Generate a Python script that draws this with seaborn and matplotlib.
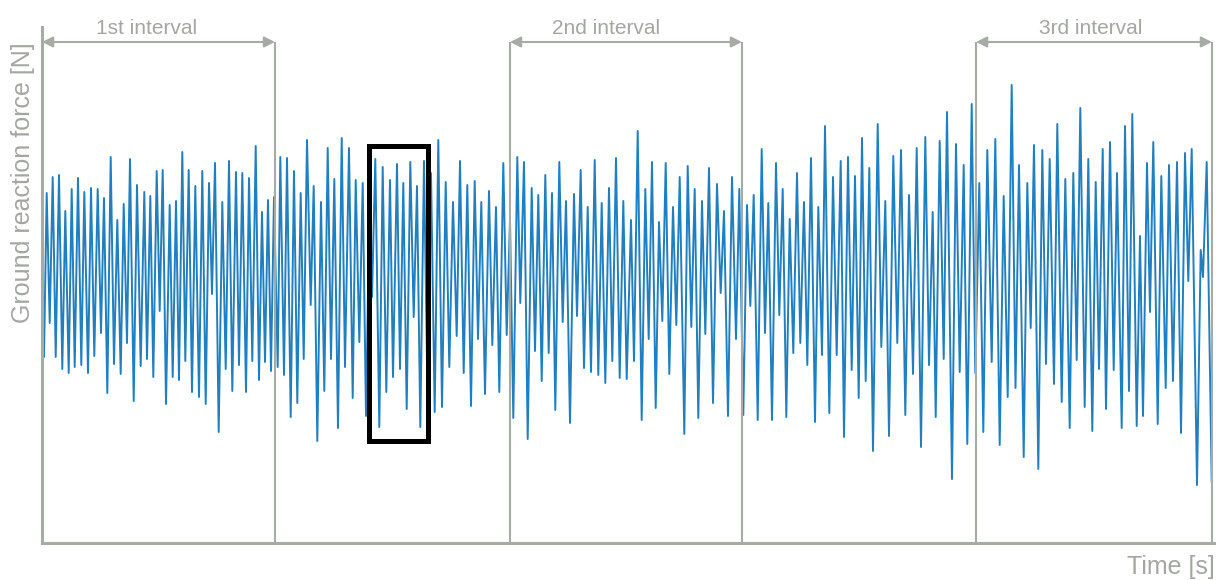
import pandas as pd
import seaborn as sns
import matplotlib.pyplot as plt
from matplotlib.patches import Rectangle

sns.set_style("white")
plt.rcParams['font.family'] = ['Liberation Sans', 'DejaVu Sans']

# peaks and troughs of the force signal
time_s = [
    0.20, 0.47, 0.77, 1.07, 1.37, 1.70, 2.03, 2.33, 2.67, 2.97,
    3.27, 3.60, 3.93, 4.23, 4.60, 4.90, 5.23, 5.57, 5.90, 6.20,
    6.53, 6.87, 7.20, 7.53, 7.87, 8.17, 8.50, 8.80, 9.17, 9.50,
    9.87, 10.23, 10.50, 10.83, 11.13, 11.47, 11.77, 12.07, 12.40, 12.77,
    13.07, 13.40, 13.70, 14.03, 14.33, 14.67, 15.00, 15.33, 15.70, 16.03,
    16.37, 16.70, 17.00, 17.30, 17.67, 18.03, 18.37, 18.70, 19.03, 19.40,
    19.70, 20.03, 20.40, 20.70, 21.03, 21.37, 21.70, 22.00, 22.30, 22.60,
    22.90, 23.20, 23.57, 23.83, 24.20, 24.50, 24.87, 25.20, 25.53, 25.87,
    26.17, 26.50, 26.87, 27.17, 27.53, 27.90, 28.23, 28.57, 28.90, 29.23,
    29.60, 29.97, 30.30, 30.70, 31.07, 31.37, 31.73, 32.07, 32.40, 32.73,
    33.00, 33.33, 33.73, 34.07, 34.43, 34.80, 35.10, 35.50, 35.80, 36.13,
    36.47, 36.83, 37.17, 37.50, 37.83, 38.20, 38.53, 38.90, 39.27, 39.63,
    40.00, 40.37, 40.73, 41.10, 41.47, 41.80, 42.17, 42.53, 42.90, 43.27,
    43.60, 43.93, 44.30, 44.70, 45.03, 45.40, 45.73, 46.13, 46.47, 46.80,
    47.13, 47.53, 47.83, 48.20, 48.57, 48.97, 49.30, 49.63, 49.97, 50.33,
    50.67, 51.00, 51.33, 51.73, 52.07, 52.40, 52.80, 53.20, 53.50, 53.87,
    54.20, 54.57, 54.90, 55.27, 55.63, 55.97, 56.33, 56.70, 57.03, 57.40,
    57.77, 58.13, 58.47, 58.90, 59.20, 59.57, 59.97, 60.33, 60.67, 61.00,
    61.37, 61.70, 62.03, 62.37, 62.73, 63.10, 63.43, 63.77, 64.23, 64.57,
    64.93, 65.27, 65.63, 66.00, 66.33, 66.70, 67.10, 67.50, 67.87, 68.20,
    68.60, 69.00, 69.40, 69.73, 70.13, 70.50, 70.83, 71.17, 71.57, 71.97,
    72.30, 72.63, 73.00, 73.40, 73.73, 74.07, 74.43, 74.77, 75.13, 75.50,
    75.83, 76.20, 76.53, 76.90, 77.30, 77.63, 78.00, 78.30, 78.73, 79.10,
    79.47, 79.87, 80.20, 80.60, 80.97, 81.30, 81.67, 82.00, 82.37, 82.73,
    83.10, 83.57, 83.93, 84.33, 84.70, 85.13, 85.53, 85.90, 86.33, 86.70,
    87.10, 87.47, 87.90, 88.33, 88.70, 89.07, 89.37, 89.77, 90.17, 90.50,
    91.00, 91.40, 91.77, 92.17, 92.53, 92.97, 93.33, 93.73, 94.13, 94.53,
    94.97, 95.33, 95.77, 96.17, 96.57, 96.97, 97.35, 97.70, 98.17, 98.53,
    98.87, 99.20, 99.63, 100.03, 100.40, 100.77, 101.20, 101.53, 101.97, 102.33,
    102.77, 103.13, 103.47, 103.83, 104.27, 104.63, 105.03, 105.37, 105.70, 106.07,
    106.40, 106.80, 107.17, 107.50, 107.97, 108.30, 108.70, 109.03, 109.47, 109.80,
    110.10, 110.50, 110.80, 111.13, 111.57, 111.93, 112.37, 112.70, 113.10, 113.50,
    113.90, 114.30, 114.63, 114.97, 115.50, 115.87, 116.10, 116.47, 116.97,
]
force_n = [
    186, 350, 220, 366, 186, 368, 174, 332, 170, 354,
    176, 365, 178, 351, 170, 355, 187, 354, 210, 345,
    150, 386, 179, 323, 169, 339, 200, 384, 142, 358,
    177, 351, 184, 347, 166, 372, 232, 373, 139, 338,
    166, 342, 163, 391, 182, 373, 151, 357, 146, 372,
    139, 360, 249, 380, 111, 341, 174, 382, 152, 371,
    178, 370, 151, 365, 182, 397, 163, 331, 181, 343,
    172, 346, 176, 386, 168, 385, 126, 372, 140, 350,
    184, 403, 238, 357, 102, 341, 152, 395, 184, 364,
    115, 405, 176, 395, 145, 363, 201, 360, 127, 334,
    246, 384, 116, 376, 151, 363, 166, 379, 174, 360,
    134, 381, 226, 357, 116, 382, 160, 370, 131, 403,
    136, 361, 176, 341, 207, 382, 170, 358, 137, 362,
    204, 341, 149, 352, 198, 336, 151, 380, 208, 323,
    125, 386, 240, 381, 104, 355, 192, 348, 162, 368,
    190, 350, 133, 381, 221, 342, 120, 349, 227, 373,
    175, 336, 171, 383, 168, 340, 160, 355, 182, 385,
    165, 342, 164, 323, 182, 412, 123, 354, 204, 381,
    135, 321, 222, 380, 169, 336, 218, 366, 109, 377,
    216, 354, 125, 342, 209, 375, 140, 359, 250, 332,
    127, 366, 204, 354, 128, 338, 237, 348, 123, 394,
    210, 340, 123, 380, 228, 354, 126, 324, 190, 370,
    200, 341, 178, 385, 121, 336, 188, 417, 130, 366,
    188, 382, 106, 386, 173, 367, 145, 405, 162, 375,
    92, 419, 196, 342, 107, 387, 200, 393, 128, 348,
    169, 395, 96, 406, 178, 331, 126, 402, 184, 431,
    64, 399, 171, 378, 99, 439, 170, 360, 111, 393,
    181, 404, 98, 347, 146, 458, 155, 378, 86, 360,
    215, 398, 74, 393, 179, 384, 159, 419, 141, 364,
    115, 370, 183, 435, 136, 384, 112, 361, 174, 394,
    134, 401, 173, 370, 115, 417, 152, 429, 117, 307,
    127, 380, 231, 401, 119, 367, 155, 378, 162, 381,
    110, 390, 262, 394, 58, 293, 266, 381, 61,
]

interval_names = ['1st interval', '2nd interval', '3rd interval']
interval_start = [0.0, 46.8, 93.4]
interval_end = [23.3, 70.0, 117.0]

# highlighted window
window_time = (32.65, 38.55)
window_force = (102.5, 397.5)

df = pd.DataFrame({'time': time_s, 'force': force_n})

gray = '#a7aba5'
text_gray = '#a3a7a1'

fig = plt.figure(figsize=(12.19, 5.8), dpi=100)
ax = fig.add_axes([42 / 1219, 37 / 580, 1172 / 1219, 516 / 580])

sns.lineplot(data=df, x='time', y='force', ax=ax, color='#1f7fc1',
             linewidth=1.4, estimator=None, sort=False, zorder=2)

ax.set_xlim(0, 117.2)
ax.set_ylim(0, 516)
ax.set_xticks([])
ax.set_yticks([])
ax.set_xlabel('')
ax.set_ylabel('')
sns.despine(ax=ax)
for side in ['left', 'bottom']:
    ax.spines[side].set_color(gray)
    ax.spines[side].set_linewidth(2.2)

arrow_y = 501
for name, a, b in zip(interval_names, interval_start, interval_end):
    ax.vlines([a, b], 0, arrow_y, color=gray, linewidth=1.5, zorder=3)
    ax.annotate('', xy=(b, arrow_y), xytext=(a, arrow_y),
                arrowprops=dict(arrowstyle='<|-|>', color=gray, lw=1.5,
                                shrinkA=0, shrinkB=0, mutation_scale=16))

label_x = [10.45, 56.4, 104.85]
for name, x in zip(interval_names, label_x):
    ax.text(x, 515, name, ha='center', va='center', fontsize=15,
            color=text_gray, clip_on=False)

ax.add_patch(Rectangle((window_time[0], window_force[0]),
                       window_time[1] - window_time[0],
                       window_force[1] - window_force[0],
                       fill=False, edgecolor='black', linewidth=3.6,
                       joinstyle='miter', zorder=4))

fig.text(23 / 1219, 1 - 183 / 580, 'Ground reaction force [N]', rotation=90,
         ha='center', va='center', fontsize=18, color=text_gray)
fig.text(1171 / 1219, 1 - 567 / 580, 'Time [s]', ha='center', va='center',
         fontsize=18, color=text_gray)

fig.savefig('out.png', dpi=100)
